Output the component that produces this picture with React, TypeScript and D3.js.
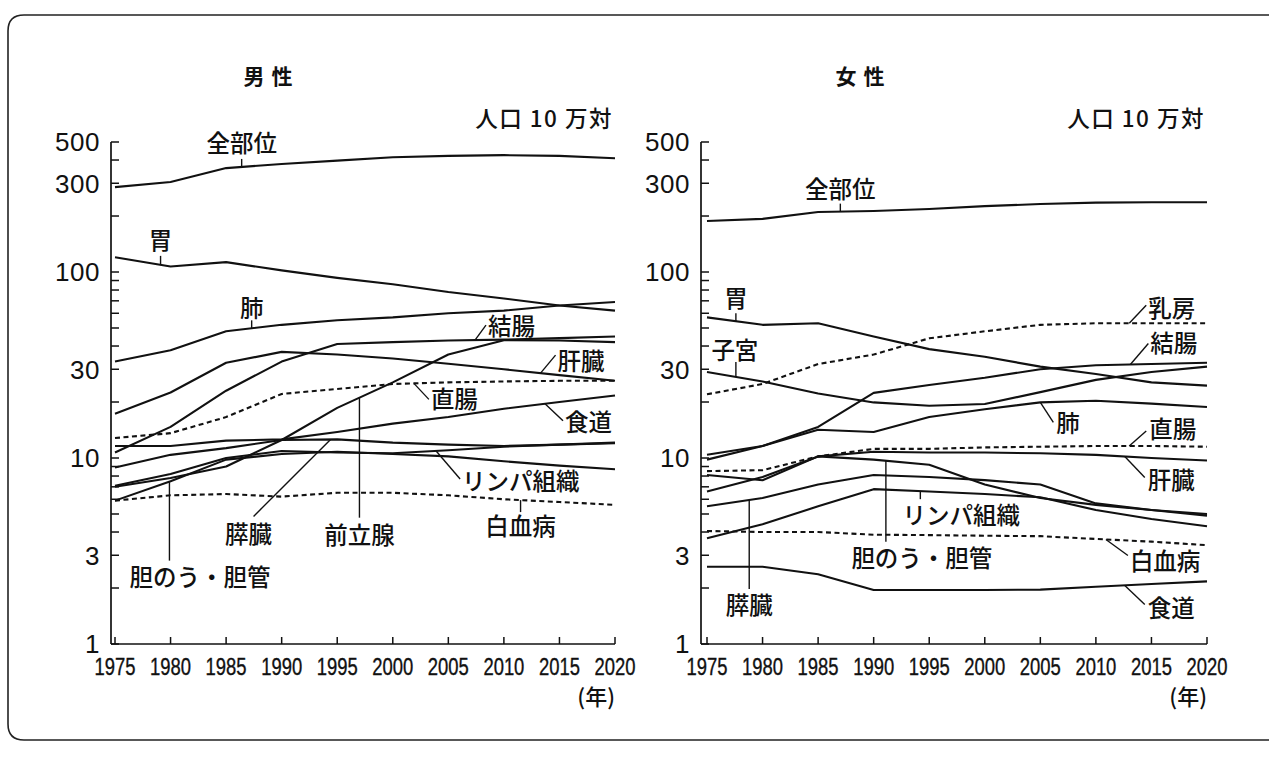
import React from "react";
import * as d3 from "d3";

const YEARS = [1975, 1980, 1985, 1990, 1995, 2000, 2005, 2010, 2015, 2020];
const Y_TICK_LABELS = [1, 3, 10, 30, 100, 300, 500];
const Y_MINOR = [2, 4, 5, 6, 7, 8, 9, 20, 40, 50, 60, 70, 80, 90, 200, 400];

// 男性
const M_ALL = [286, 305, 362, 381, 397, 414, 421, 425, 421, 409];
const M_STOMACH = [120, 107, 113, 102, 93, 86, 78, 72, 66, 62];
const M_LUNG = [33, 38, 48, 52, 55, 57, 60, 62, 66, 69];
const M_COLON = [10.7, 14.7, 23, 33, 41, 42, 42.8, 43.3, 44.1, 45];
const M_LIVER = [17.3, 22.5, 32.5, 37.2, 36, 34.3, 32.1, 30, 27.9, 26];
const M_RECTUM = [12.8, 13.6, 16.6, 22.1, 23.5, 25, 25.5, 25.8, 26, 26];
const M_PROSTATE = [7.0, 7.8, 9.0, 12.5, 18.6, 25.5, 36, 43, 42.8, 42];
const M_ESOPH = [11.6, 11.6, 12.4, 12.6, 13.8, 15.3, 16.6, 18.4, 20, 21.7];
const M_PANCREAS = [8.9, 10.4, 11.3, 12.5, 12.6, 12.1, 11.8, 11.6, 11.8, 12.0];
const M_GALL = [5.9, 7.5, 9.8, 10.5, 10.8, 10.5, 10.2, 9.6, 9.1, 8.7];
const M_LYMPH = [7.1, 8.2, 10.0, 10.9, 10.7, 10.6, 11.0, 11.5, 11.8, 12.1];
const M_LEUK = [5.9, 6.3, 6.4, 6.2, 6.5, 6.5, 6.3, 6.0, 5.8, 5.6];

// 女性
const F_ALL = [188, 193, 210, 213, 218, 226, 232, 236, 237, 237];
const F_STOMACH = [57, 52, 53, 45, 38.5, 35, 31, 28.3, 25.5, 24.5];
const F_BREAST = [22, 25, 32, 36, 44, 48, 52, 53, 53, 53];
const F_UTERUS = [29, 25.8, 22.2, 19.9, 19.1, 19.5, 22.6, 26.3, 29, 31];
const F_COLON = [9.8, 11.6, 14.7, 22.4, 24.7, 27, 30, 31.5, 32, 32.5];
const F_LUNG = [10.4, 11.6, 14.2, 13.8, 16.6, 18.3, 19.9, 20.3, 19.6, 18.8];
const F_RECTUM = [8.5, 8.6, 10.2, 11.2, 11.2, 11.4, 11.5, 11.6, 11.6, 11.5];
const F_LIVER = [8.1, 7.6, 10.2, 10.8, 10.7, 10.7, 10.6, 10.4, 10.0, 9.7];
const F_GALL = [6.6, 7.9, 10.2, 9.8, 9.2, 7.2, 6.1, 5.6, 5.25, 4.9];
const F_PANCREAS = [5.5, 6.1, 7.2, 8.1, 7.9, 7.6, 7.2, 5.7, 5.25, 5.0];
const F_LYMPH = [3.7, 4.4, 5.5, 6.8, 6.6, 6.4, 6.15, 5.25, 4.7, 4.3];
const F_LEUK = [4.05, 4.0, 4.0, 3.87, 3.85, 3.82, 3.8, 3.67, 3.55, 3.4];
const F_ESOPH = [2.6, 2.6, 2.37, 1.95, 1.95, 1.95, 1.96, 2.03, 2.1, 2.17];

type Series = { key: string; values: number[]; dashed?: boolean };
type Note = {
  text: string;
  key: string;
  year: number;
  px: number;
  py: number;
  tx: number;
  ty: number;
  anchor: "start" | "middle" | "end";
};

const MALE: Series[] = [
  { key: "all", values: M_ALL },
  { key: "stomach", values: M_STOMACH },
  { key: "lung", values: M_LUNG },
  { key: "colon", values: M_COLON },
  { key: "liver", values: M_LIVER },
  { key: "rectum", values: M_RECTUM, dashed: true },
  { key: "prostate", values: M_PROSTATE },
  { key: "esoph", values: M_ESOPH },
  { key: "pancreas", values: M_PANCREAS },
  { key: "gall", values: M_GALL },
  { key: "lymph", values: M_LYMPH },
  { key: "leuk", values: M_LEUK, dashed: true },
];

const FEMALE: Series[] = [
  { key: "all", values: F_ALL },
  { key: "stomach", values: F_STOMACH },
  { key: "breast", values: F_BREAST, dashed: true },
  { key: "uterus", values: F_UTERUS },
  { key: "colon", values: F_COLON },
  { key: "lung", values: F_LUNG },
  { key: "rectum", values: F_RECTUM, dashed: true },
  { key: "liver", values: F_LIVER },
  { key: "gall", values: F_GALL },
  { key: "pancreas", values: F_PANCREAS },
  { key: "lymph", values: F_LYMPH },
  { key: "leuk", values: F_LEUK, dashed: true },
  { key: "esoph", values: F_ESOPH },
];

const MALE_NOTES: Note[] = [
  { text: "全部位", key: "all", year: 1986.4, px: 0, py: -8, tx: 0, ty: -15, anchor: "middle" },
  { text: "胃", key: "stomach", year: 1979.1, px: 0, py: -9, tx: 0, ty: -16, anchor: "middle" },
  { text: "肺", key: "lung", year: 1987.3, px: 0, py: -8, tx: 0, ty: -11, anchor: "middle" },
  { text: "結腸", key: "colon", year: 2007.4, px: 11, py: -15, tx: 13, ty: -5, anchor: "start" },
  { text: "肝臓", key: "liver", year: 2013.3, px: 15, py: -18, tx: 17, ty: -3, anchor: "start" },
  { text: "直腸", key: "rectum", year: 2001.9, px: 15, py: 16, tx: 17, ty: 25, anchor: "start" },
  { text: "食道", key: "esoph", year: 2013.7, px: 18, py: 17, tx: 20, ty: 27, anchor: "start" },
  { text: "リンパ組織", key: "lymph", year: 2003.9, px: 24, py: 28, tx: 26, ty: 39, anchor: "start" },
  { text: "白血病", key: "leuk", year: 2011.5, px: 0, py: 12, tx: 0, ty: 35, anchor: "middle" },
  { text: "膵臓", key: "pancreas", year: 1994.4, px: -77, py: 77, tx: -82, ty: 104, anchor: "middle" },
  { text: "前立腺", key: "prostate", year: 1997, px: 0, py: 120, tx: 0, ty: 146, anchor: "middle" },
  { text: "胆のう・胆管", key: "gall", year: 1979.9, px: 0, py: 79, tx: -40, ty: 104, anchor: "start" },
];

const FEMALE_NOTES: Note[] = [
  { text: "全部位", key: "all", year: 1987, px: 0, py: -8, tx: 0, ty: -14, anchor: "middle" },
  { text: "胃", key: "stomach", year: 1977.6, px: 0, py: -8, tx: 0, ty: -14, anchor: "middle" },
  { text: "乳房", key: "breast", year: 2013, px: 17, py: -18, tx: 19, ty: -6, anchor: "start" },
  { text: "子宮", key: "uterus", year: 1977.6, px: 0, py: -15, tx: -1, ty: -18, anchor: "middle" },
  { text: "結腸", key: "colon", year: 2013.1, px: 18, py: -21, tx: 20, ty: -13, anchor: "start" },
  { text: "肺", key: "lung", year: 2005, px: 13, py: 20, tx: 16, ty: 30, anchor: "start" },
  { text: "直腸", key: "rectum", year: 2013, px: 17, py: -15, tx: 20, ty: -8, anchor: "start" },
  { text: "肝臓", key: "liver", year: 2012.6, px: 20, py: 21, tx: 23, ty: 33, anchor: "start" },
  { text: "リンパ組織", key: "lymph", year: 1994.2, px: 0, py: 8, tx: 41, ty: 33, anchor: "middle" },
  { text: "胆のう・胆管", key: "gall", year: 1991.1, px: 0, py: 81, tx: 36, ty: 106, anchor: "middle" },
  { text: "白血病", key: "leuk", year: 2010.9, px: 22, py: 16, tx: 24, ty: 31, anchor: "start" },
  { text: "膵臓", key: "pancreas", year: 1978.8, px: 0, py: 89, tx: 0, ty: 114, anchor: "middle" },
  { text: "食道", key: "esoph", year: 2012.6, px: 20, py: 19, tx: 23, ty: 32, anchor: "start" },
];

const JP = "'Noto Sans CJK JP', 'Noto Sans', sans-serif";
const NUM = "'Liberation Sans', Arial, sans-serif";
const INK = "#111";

function Panel(props: {
  axisX: number;
  x0: number;
  x1: number;
  title: string[];
  series: Series[];
  notes: Note[];
}) {
  const { axisX, x0, x1, title, series, notes } = props;
  const x = d3.scaleLinear().domain([1975, 2020]).range([x0, x1]);
  const y = d3.scaleLog().domain([1, 500]).range([644, 142]);
  const line = d3
    .line<number>()
    .x((_, i) => x(YEARS[i]))
    .y((v) => y(v));

  const pointAt = (key: string, yr: number) => {
    const s = series.find((d) => d.key === key)!;
    const i = Math.min(YEARS.length - 2, Math.max(0, Math.floor((yr - 1975) / 5)));
    const t = (yr - YEARS[i]) / 5;
    const ya = y(s.values[i]);
    const yb = y(s.values[i + 1]);
    return [x(yr), ya + (yb - ya) * t];
  };

  const yTop = y(500);
  const yBot = y(1);
  const tc = x0 + 153;

  return (
    <g>
      <text x={tc - 14} y={84} textAnchor="middle" fontFamily={JP} fontWeight={700} fontSize={21} fill={INK}>
        {title[0]}
      </text>
      <text x={tc + 14} y={84} textAnchor="middle" fontFamily={JP} fontWeight={700} fontSize={21} fill={INK}>
        {title[1]}
      </text>
      <text x={x1 - 2} y={127} textAnchor="end" fontFamily={JP} fontWeight={500} fontSize={22.5} fill={INK} letterSpacing={1.5}>
        人口 10 万対
      </text>
      {/* y axis */}
      <line x1={axisX} x2={axisX} y1={yTop} y2={yBot} stroke={INK} strokeWidth={1.7} />
      <line x1={axisX} x2={x1} y1={yBot} y2={yBot} stroke={INK} strokeWidth={1.7} />
      {Y_TICK_LABELS.concat(Y_MINOR).map((v) => (
        <line key={"t" + v} x1={axisX} x2={axisX + 8} y1={y(v)} y2={y(v)} stroke={INK} strokeWidth={1.5} />
      ))}
      {Y_TICK_LABELS.map((v) => (
        <text key={"l" + v} x={axisX - 11} y={y(v)} dy="0.36em" textAnchor="end" fontFamily={NUM} fontSize={26} fill={INK} letterSpacing={0.5}>
          {v}
        </text>
      ))}
      {/* x axis */}
      {YEARS.map((yr) => (
        <line key={"xt" + yr} x1={x(yr)} x2={x(yr)} y1={yBot} y2={yBot - 7} stroke={INK} strokeWidth={1.5} />
      ))}
      {YEARS.map((yr) => (
        <text
          key={"xl" + yr}
          x={x(yr)}
          y={675}
          textAnchor="middle"
          fontFamily={NUM}
          fontSize={23}
          fill={INK}
          stroke={INK}
          strokeWidth={0.35}
          textLength={41}
          lengthAdjust="spacingAndGlyphs"
        >
          {yr}
        </text>
      ))}
      <text x={x1} y={705} textAnchor="end" fontFamily={JP} fontWeight={500} fontSize={22} fill={INK}>
        (年)
      </text>
      {/* series */}
      {series.map((s) => (
        <path
          key={s.key}
          d={line(s.values) || ""}
          fill="none"
          stroke={INK}
          strokeWidth={2.1}
          strokeDasharray={s.dashed ? "5,3.5" : undefined}
          strokeLinejoin="round"
        />
      ))}
      {/* annotations */}
      {notes.map((n) => {
        const [ax, ay] = pointAt(n.key, n.year);
        return (
          <g key={n.text}>
            <line x1={ax} y1={ay} x2={ax + n.px} y2={ay + n.py} stroke={INK} strokeWidth={1.4} />
            <text x={ax + n.tx} y={ay + n.ty} textAnchor={n.anchor} fontFamily={JP} fontWeight={500} fontSize={23.5} fill={INK}>
              {n.text}
            </text>
          </g>
        );
      })}
    </g>
  );
}

export default function App() {
  return (
    <svg
      width={1269}
      height={760}
      viewBox="0 0 1269 760"
      style={{ position: "absolute", left: 0, top: 0, background: "#fff" }}
    >
      <rect x={0} y={0} width={1269} height={760} fill="#fff" />
      <path d="M 1280 15 H 24 Q 8 15 8 31 V 724 Q 8 740 24 740 H 1280" fill="none" stroke="#222" strokeWidth={1.6} />
      <Panel axisX={111} x0={115} x1={615} title={["男", "性"]} series={MALE} notes={MALE_NOTES} />
      <Panel axisX={701} x0={707} x1={1207} title={["女", "性"]} series={FEMALE} notes={FEMALE_NOTES} />
    </svg>
  );
}
